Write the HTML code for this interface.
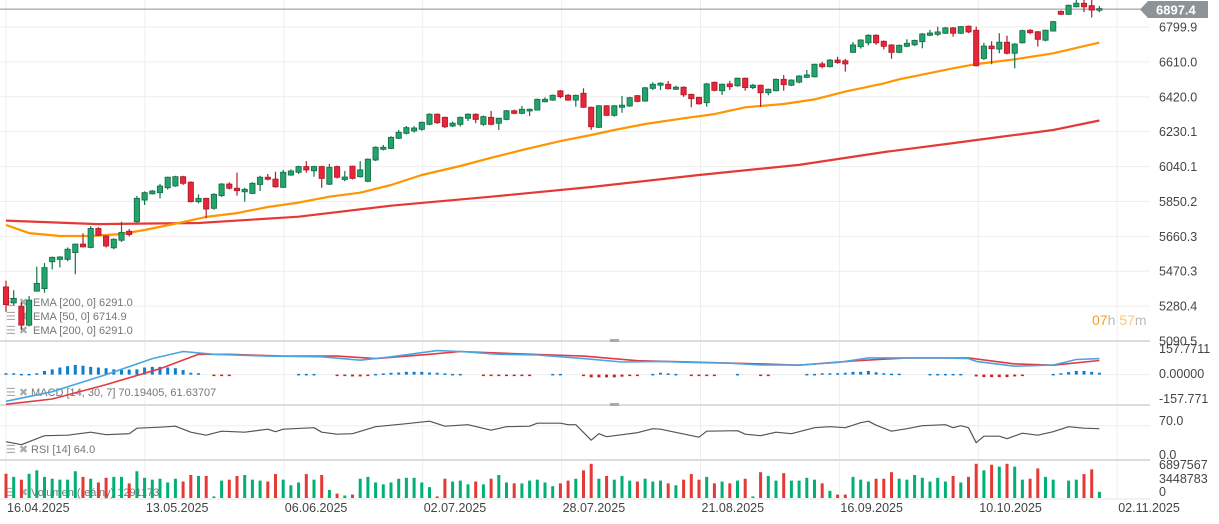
<!DOCTYPE html>
<html><head><meta charset="utf-8">
<style>
html,body{margin:0;padding:0;background:#fff;width:1219px;height:524px;overflow:hidden;font-family:"Liberation Sans",sans-serif}
svg{display:block}
text{font-family:"Liberation Sans",sans-serif}
</style></head>
<body>
<svg id="chart" width="1219" height="524" viewBox="0 0 1219 524" xmlns="http://www.w3.org/2000/svg">
<g id="grid"></g>
<g id="legends">
 <g font-size="11" fill="#777">
  <text x="6" y="306" fill="#aaa">☰ ✖</text>
  <text x="33" y="306">EMA [200,  0]  6291.0</text>
  <text x="6" y="320" fill="#aaa">☰ ✖</text>
  <text x="33" y="320">EMA [50,  0]  6714.9</text>
  <text x="6" y="334" fill="#aaa">☰ ✖</text>
  <text x="33" y="334">EMA [200,  0]  6291.0</text>
  <text x="6" y="396" fill="#aaa">☰ ✖</text>
  <text x="31" y="396">MACD  [14,  30,  7]  70.19405,   61.63707</text>
  <text x="6" y="453" fill="#aaa">☰ ✖</text>
  <text x="31" y="453">RSI  [14]  64.0</text>
  <text x="6" y="496" fill="#aaa">☰ ✖</text>
  <text x="31" y="496">Volumen  (reálny)  1291173</text>
 </g>
</g>
<g id="marks"></g>
<g id="axis" font-size="12.5" fill="#444"></g>
<g id="xaxis" font-size="12.5" fill="#444"></g>
<text x="1092" y="325" font-size="14"><tspan fill="#ff9a1a">07</tspan><tspan fill="#bbb">h </tspan><tspan fill="#ffc47a">57</tspan><tspan fill="#bbb">m</tspan></text>
</svg>
<script>
const NS='http://www.w3.org/2000/svg';
// ---- data ----
const opens=[5385,5298,5280,5177,5362,5376,5522,5535,5535,5572,5618,5600,5703,5662,5598,5639,5688,5740,5858,5892,5898,5925,5935,5985,5955,5849,5867,5813,5882,5945,5922,5903,5894,5943,5982,5972,5927,5994,6009,6040,6017,6040,5944,6040,5970,6042,5985,5960,6076,6134,6139,6194,6221,6234,6243,6270,6325,6308,6261,6270,6303,6325,6270,6308,6276,6297,6344,6330,6343,6348,6393,6402,6452,6428,6402,6439,6363,6254,6371,6319,6363,6370,6426,6397,6466,6483,6488,6461,6472,6433,6417,6388,6499,6453,6490,6480,6521,6470,6483,6442,6453,6515,6483,6500,6526,6529,6599,6584,6620,6616,6662,6693,6714,6755,6722,6702,6662,6695,6703,6720,6755,6760,6766,6795,6766,6804,6782,6629,6696,6680,6717,6657,6714,6782,6774,6728,6778,6885,6869,6910,6929,6916,6891];
const highs=[5419,5367,5304,5335,5495,5515,5550,5552,5600,5620,5677,5716,5710,5666,5650,5740,5700,5880,5905,5912,5945,5985,5990,5990,5960,5889,5870,5895,5950,5955,6007,5925,5955,5990,6000,6012,6022,6025,6045,6070,6045,6045,6054,6045,6016,6045,6070,6085,6150,6158,6205,6240,6261,6260,6285,6330,6330,6312,6285,6312,6330,6330,6318,6343,6306,6348,6350,6370,6356,6410,6417,6432,6457,6435,6432,6466,6366,6375,6375,6375,6424,6420,6430,6473,6499,6499,6506,6480,6477,6437,6420,6495,6502,6492,6507,6525,6525,6490,6486,6465,6520,6539,6515,6537,6566,6600,6611,6625,6638,6626,6718,6733,6760,6760,6727,6706,6705,6733,6731,6767,6784,6802,6800,6800,6805,6808,6802,6714,6722,6766,6753,6712,6785,6789,6778,6786,6833,6890,6922,6947,6947,6947,6914];
const lows=[5249,5286,5150,5170,5360,5353,5480,5491,5525,5454,5600,5595,5662,5600,5590,5630,5660,5735,5831,5888,5867,5915,5930,5940,5845,5840,5758,5805,5875,5915,5882,5849,5890,5907,5965,5925,5925,5990,6000,6007,5985,5925,5940,5975,5960,5970,5980,5955,6070,6128,6135,6190,6215,6225,6235,6265,6272,6250,6255,6258,6288,6276,6262,6265,6239,6292,6325,6325,6315,6345,6390,6398,6412,6398,6366,6360,6239,6250,6315,6312,6333,6365,6390,6393,6457,6457,6460,6457,6420,6363,6377,6366,6450,6430,6457,6475,6453,6461,6366,6428,6450,6453,6478,6493,6522,6525,6575,6580,6600,6557,6658,6682,6700,6703,6678,6627,6657,6690,6697,6684,6750,6751,6762,6747,6762,6766,6585,6620,6597,6657,6650,6575,6710,6760,6693,6722,6775,6865,6865,6907,6881,6852,6880];
const closes=[5289,5322,5177,5313,5404,5490,5546,5548,5590,5618,5603,5703,5666,5608,5644,5682,5670,5867,5898,5907,5934,5982,5985,5949,5849,5867,5809,5889,5945,5922,5909,5916,5949,5982,5971,5930,6009,6016,6040,6022,6040,5976,6036,5982,5983,5976,6022,6080,6145,6145,6199,6227,6252,6250,6281,6325,6279,6257,6276,6308,6325,6297,6312,6270,6303,6344,6330,6352,6352,6406,6406,6428,6421,6402,6428,6363,6257,6371,6319,6371,6374,6415,6395,6469,6488,6494,6464,6472,6431,6410,6382,6490,6455,6488,6475,6521,6470,6483,6442,6461,6515,6486,6511,6533,6539,6597,6584,6620,6606,6599,6702,6729,6755,6714,6695,6662,6700,6711,6727,6762,6767,6773,6795,6766,6802,6773,6589,6696,6682,6717,6657,6707,6780,6769,6733,6782,6829,6869,6918,6929,6910,6892,6900];
const volumes=[5772,5032,4366,5772,6586,5032,4588,4366,4366,6364,5032,4588,3700,4810,5032,5032,3478,6364,4810,4366,4588,3700,4588,3922,5476,5254,5254,370,4144,4366,5254,5476,4366,4144,3922,5698,4366,3034,3700,5698,4366,5476,1924,1036,592,814,4588,5032,3700,3256,3700,4588,4810,4810,3700,2590,370,4588,3922,4144,3256,3922,3256,4588,5476,3700,3478,3478,4144,4366,3700,2812,3478,4144,4588,6586,8140,4588,5254,4366,5254,4144,3922,4588,3922,4144,3478,3034,4366,5698,4366,5032,3478,3922,3478,4144,4588,370,6142,5254,4144,5920,4144,4144,4810,4366,3478,1702,814,814,5032,4366,3922,4588,4588,6142,4588,4366,5476,4810,3922,4810,3922,5254,3700,5032,8140,6586,7918,7474,8140,7474,4366,4588,7030,5032,4366,0,4144,4366,5698,6808,1480];
const ema50Idx=[0,3,7,11,15,18,23,26,30,34,38,42,46,50,54,59,63,67,72,76,79,83,88,92,96,101,105,109,114,116,123,126,131,136,142];
const ema50Val=[5722,5678,5662,5662,5673,5695,5738,5766,5787,5820,5844,5876,5898,5940,5994,6043,6088,6130,6179,6212,6239,6272,6303,6326,6363,6381,6406,6448,6493,6515,6575,6598,6624,6657,6714.9];
const ema200Idx=[0,12,25,38,50,63,76,90,103,114,123,129,136,142];
const ema200Val=[5746,5727,5733,5767,5827,5876,5929,5994,6049,6119,6168,6201,6239,6291];
const macdIdx=[0,6,13,19,23,27,34,41,46,50,56,59,64,69,75,80,85,89,94,98,103,108,112,117,122,125,126,131,136,139,142];
const macdVal=[-117,-75,0,70,101,89,81,78,63,78,105,101,89,86,70,55,58,53,50,42,42,53,73,73,73,70,58,37,42,66,70.19];
const signalIdx=[0,6,13,20,25,29,36,43,48,55,59,64,71,75,82,89,98,103,110,117,125,131,136,142];
const signalVal=[-130,-107,-44,26,89,89,81,81,70,89,101,94,86,81,61,55,47,41,60,73,73,47,41,61.64];
const histIdx=[0,1,2,3,4,5,6,7,8,9,10,11,12,13,14,15,16,17,18,19,20,21,22,23,24,25,27,28,29,38,39,40,43,44,45,46,47,48,49,50,51,52,53,54,55,56,57,58,59,62,63,64,65,66,67,68,71,72,75,76,77,78,79,80,81,82,84,85,86,87,89,90,91,92,95,98,99,104,105,106,107,108,109,110,111,112,113,114,115,116,120,121,122,123,124,126,127,128,129,130,131,132,136,137,138,139,140,141,142];
const histVal=[6,6,3,3,6,16,23,31,37,42,39,34,31,28,23,20,22,23,31,34,34,31,28,20,8,6,-4,-4,-4,3,3,3,-4,-6,-8,-8,-6,3,5,8,9,12,12,12,9,8,5,3,3,-4,-4,-4,-4,-4,-4,-4,3,3,-5,-12,-12,-12,-12,-9,-6,-5,3,8,5,3,-4,-6,-4,-4,3,-4,-4,3,3,6,6,6,8,12,12,16,10,6,4,4,3,3,3,3,3,-8,-11,-11,-11,-11,-8,-6,3,6,11,16,16,12,8];
const rsiIdx=[0,2,5,8,11,13,16,17,20,22,24,26,28,31,34,35,36,40,41,43,45,48,52,55,57,60,63,65,68,69,72,73,74,76,77,78,80,82,84,85,90,91,95,96,98,100,102,105,107,109,111,112,113,115,117,119,122,123,124,125,126,127,129,130,132,134,136,138,140,142];
const rsiVal=[38,32,50,51,57,52,54,65,67,69,57,51,59,57,63,58,63,66,57,53,54,68,74,79,69,72,61,68,69,75,75,72,72,41,54,48,52,56,64,63,47,59,60,53,50,57,54,66,68,66,76,79,71,59,64,70,72,66,70,66,36,49,49,44,55,51,58,68,65,64];
const priceTicks=[6799.9,6610.0,6420.0,6230.1,6040.1,5850.2,5660.3,5470.3,5280.4,5090.5];
const dateLabels=['16.04.2025','13.05.2025','06.06.2025','02.07.2025','28.07.2025','21.08.2025','16.09.2025','10.10.2025','02.11.2025'];
const lastPrice=6897.4;

// ---- scales ----
const xOf=i=>6+i*7.7;
const yP=p=>27+(6799.9-p)*0.1837;
const yM=v=>374.6-v/4.38;
const yR=v=>460.7-v*0.5;
const yV=v=>498-v*0.0042;
const dateX=k=>6+k*138.9;

function mk(tag,attrs,parent){const e=document.createElementNS(NS,tag);for(const k in attrs)e.setAttribute(k,attrs[k]);parent.appendChild(e);return e;}
const grid=document.getElementById('grid'),marks=document.getElementById('marks'),axis=document.getElementById('axis'),xaxis=document.getElementById('xaxis');

// grid & separators
priceTicks.forEach((p,i)=>{const l=mk('line',{x1:0,x2:1150,y1:yP(p),y2:yP(p),stroke:'#eeeeee','stroke-width':1},grid);

});
dateLabels.forEach((d,k)=>{const l=mk('line',{x1:dateX(k),x2:dateX(k),y1:0,y2:499,stroke:'#eeeeee','stroke-width':1},grid);

});
[[374.6],[425.7]].forEach(a=>{const l=mk('line',{x1:0,x2:1150,y1:a[0],y2:a[0],stroke:'#eeeeee'},grid);

});
[341,405,460].forEach(y=>{const l=mk('line',{x1:0,x2:1150,y1:y,y2:y,stroke:'#dcdcdc','stroke-width':2},grid);

});
const bl=mk('line',{x1:0,x2:1150,y1:499,y2:499,stroke:'#e4e4e4'},grid);


[341,405].forEach(y=>{const h=mk('rect',{x:610,y:y-2,width:9,height:3,fill:'#aaa'},grid);

});

// last price line
const lp=mk('line',{x1:0,x2:1145,y1:yP(lastPrice),y2:yP(lastPrice),stroke:'#8a8f93','stroke-width':1},marks);



// volume
volumes.forEach((v,i)=>{const up=closes[i]>=opens[i];
const r=mk('rect',{x:xOf(i)-1.5,y:yV(v),width:3,height:498-yV(v),fill:up?'#00b074':'#e53935'},marks);

});

// EMA lines
function line(idx,val,ys,color,w,name){const d=idx.map((i,k)=>(k?'L':'M')+xOf(i).toFixed(1)+','+ys(val[k]).toFixed(1)).join('');
const p=mk('path',{d:d,fill:'none',stroke:color,'stroke-width':w,'stroke-linejoin':'round'},marks);

}
line(ema200Idx,ema200Val,yP,'#e53935',2.2,'ema200-line');
line(ema50Idx,ema50Val,yP,'#ff9500',2.2,'ema50-line');

// candles
opens.forEach((o,i)=>{const c=closes[i],up=c>=o,x=xOf(i);
const fill=up?'#21a56b':'#e8263a',st=up?'#16704a':'#b41c2c';
const w=mk('line',{x1:x,x2:x,y1:yP(highs[i]),y2:yP(lows[i]),stroke:st,'stroke-width':1.2},marks);


const top=yP(Math.max(o,c)),h=Math.max(1.5,Math.abs(yP(o)-yP(c)));
const b=mk('rect',{x:x-2.6,y:top,width:5.2,height:h,fill:fill,stroke:st,'stroke-width':0.9},marks);

});

// MACD
histIdx.forEach((i,k)=>{const v=histVal[k],y0=yM(0),y1=yM(v);
const r=mk('rect',{x:xOf(i)-1.5,y:Math.min(y0,y1),width:3,height:Math.max(1.5,Math.abs(y1-y0)),fill:v>=0?'#0a7ed0':'#cc1f1f'},marks);

});
line(signalIdx,signalVal,yM,'#e23a45',1.6,'macd-signal-line');
line(macdIdx,macdVal,yM,'#4aa6e0',1.6,'macd-line');

// RSI
line(rsiIdx,rsiVal,yR,'#555',1.2,'rsi-line');

// y axis labels
priceTicks.forEach(p=>{const t=mk('text',{x:1159,y:yP(p)+4.5},axis);t.textContent=p.toFixed(1);

});
[['157.7711',353],['0.00000',378],['-157.771',403],['70.0',425],['0.0',459],['6897567',469],['3448783',483],['0',496]].forEach(a=>{const t=mk('text',{x:1159,y:a[1]},axis);t.textContent=a[0];

});
// last price tag
const tag=mk('path',{d:'M1140,9.5 L1148,1 L1208,1 L1208,18 L1148,18 Z',fill:'#8c9497'},axis);


const tt=mk('text',{x:1156,y:14.5,fill:'#fff','font-size':13,'font-weight':'bold'},axis);tt.textContent=lastPrice.toFixed(1);



// x axis
dateLabels.forEach((d,k)=>{const t=mk('text',{x:dateX(k)+1,y:512},xaxis);t.textContent=d;

});
</script>
</body></html>
